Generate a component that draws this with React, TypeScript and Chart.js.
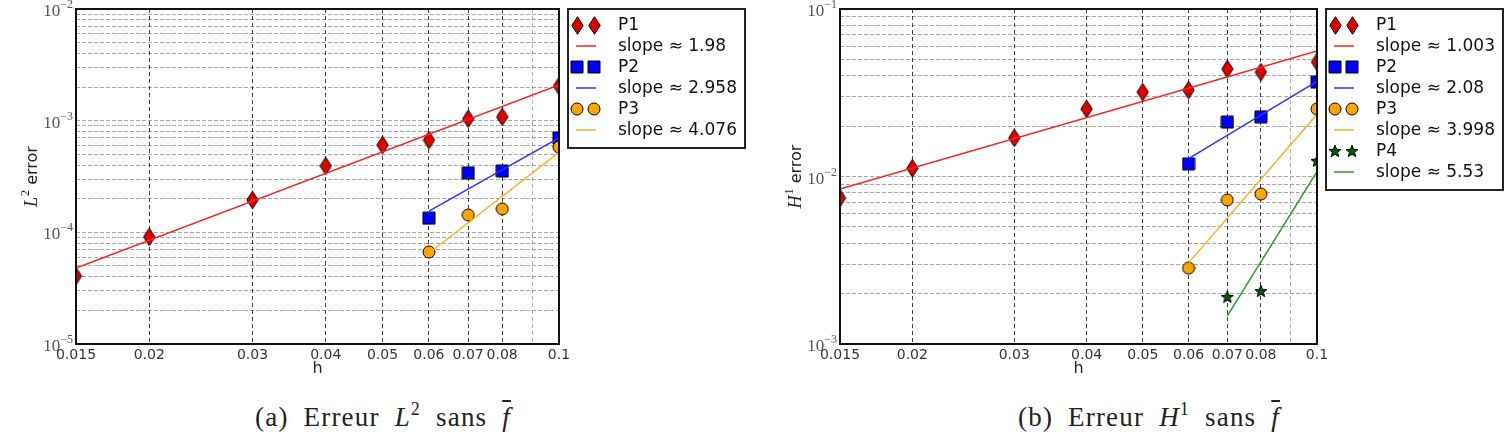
import React, { useEffect, useRef } from 'react';
import { Chart, registerables } from 'chart.js';

Chart.register(...registerables);

// ---------------- data ----------------
const hFine = [0.015, 0.02, 0.03, 0.04, 0.05, 0.06, 0.07, 0.08, 0.1];
const hCoarse = [0.06, 0.07, 0.08, 0.1];
const hP4 = [0.07, 0.08, 0.1];

// (a) L2 error
const l2P1 = [4.06e-5, 9.1e-5, 1.95e-4, 3.93e-4, 6.05e-4, 6.7e-4, 1.04e-3, 1.08e-3, 2.04e-3];
const l2P2 = [1.34e-4, 3.4e-4, 3.54e-4, 7.0e-4];
const l2P3 = [6.67e-5, 1.43e-4, 1.62e-4, 5.81e-4];
const l2FitP1X = [0.015, 0.1];
const l2FitP1Y = [4.8e-5, 2.09e-3];
const l2FitP2X = [0.06, 0.1];
const l2FitP2Y = [1.55e-4, 7.0e-4];
const l2FitP3X = [0.06, 0.1];
const l2FitP3Y = [6.5e-5, 5.2e-4];

// (b) H1 error
const h1P1 = [7.44e-3, 1.12e-2, 1.7e-2, 2.53e-2, 3.19e-2, 3.28e-2, 4.38e-2, 4.2e-2, 4.83e-2];
const h1P2 = [1.19e-2, 2.11e-2, 2.27e-2, 3.66e-2];
const h1P3 = [2.84e-3, 7.24e-3, 7.86e-3, 2.53e-2];
const h1P4 = [1.91e-3, 2.07e-3, 1.24e-2];
const h1FitP1X = [0.015, 0.1];
const h1FitP1Y = [8.42e-3, 5.61e-2];
const h1FitP2X = [0.06, 0.1];
const h1FitP2Y = [1.28e-2, 3.7e-2];
const h1FitP3X = [0.06, 0.1];
const h1FitP3Y = [3.05e-3, 2.35e-2];
const h1FitP4X = [0.07, 0.1];
const h1FitP4Y = [1.47e-3, 1.07e-2];

// ticks / labels
const xGridValues = [0.015, 0.02, 0.03, 0.04, 0.05, 0.06, 0.07, 0.08, 0.09, 0.1];
const xTickLabels = ['0.015', '0.02', '0.03', '0.04', '0.05', '0.06', '0.07', '0.08', '', '0.1'];
const yTickBase = '10';
const l2Decades = [-5, -4, -3, -2];
const l2YExponents = ['−5', '−4', '−3', '−2'];
const h1Decades = [-3, -2, -1];
const h1YExponents = ['−3', '−2', '−1'];
const seriesNames = ['P1', 'P2', 'P3', 'P4'];
const l2Slopes = ['1.98', '2.958', '4.076'];
const h1Slopes = ['1.003', '2.08', '3.998', '5.53'];
const xTitle = 'h';

// ---------------- styling ----------------
const lineColors = ['#ff2020', '#3030ff', '#ffb020', '#2a9a2a'];
const markerKinds = ['diamond', 'square', 'circle', 'star'];

function makeMarker(kind: string): HTMLCanvasElement {
  const c = document.createElement('canvas');
  if (kind === 'diamond') {
    c.width = 13; c.height = 19;
  } else {
    c.width = 14; c.height = 14;
  }
  const ctx = c.getContext('2d')!;
  ctx.lineWidth = 1;
  ctx.strokeStyle = '#000';
  ctx.beginPath();
  if (kind === 'diamond') {
    ctx.moveTo(6.5, 0.7); ctx.lineTo(12.2, 9.5); ctx.lineTo(6.5, 18.3); ctx.lineTo(0.8, 9.5); ctx.closePath();
    ctx.fillStyle = '#e00000';
  } else if (kind === 'square') {
    ctx.rect(1, 1, 12, 12);
    ctx.fillStyle = '#0000ff';
  } else if (kind === 'circle') {
    ctx.arc(7, 7, 6, 0, Math.PI * 2);
    ctx.fillStyle = '#ffa500';
  } else {
    for (let i = 0; i < 10; i++) {
      const r = i % 2 === 0 ? 6.3 : 2.7;
      const a = -Math.PI / 2 + (i * Math.PI) / 5;
      const px = 7 + r * Math.cos(a);
      const py = 7.5 + r * Math.sin(a);
      if (i === 0) ctx.moveTo(px, py); else ctx.lineTo(px, py);
    }
    ctx.closePath();
    ctx.fillStyle = '#005a00';
  }
  ctx.fill();
  ctx.stroke();
  return c;
}

function buildYTicks(decades: number[]) {
  const vals: number[] = [];
  for (let i = 0; i < decades.length - 1; i++) {
    for (let m = 1; m <= 9; m++) vals.push(m * Math.pow(10, decades[i]));
  }
  vals.push(Math.pow(10, decades[decades.length - 1]));
  return vals;
}

function pts(xs: number[], ys: number[]) {
  return xs.map((x, i) => ({ x, y: ys[i] }));
}

type Spec = {
  markers: { xs: number[]; ys: number[] }[];
  fits: { xs: number[]; ys: number[] }[];
  slopes: string[];
  decades: number[];
  yExponents: string[];
  yAxisWidth: number;
  padRight: number;
  titleSym: string;
  titleSup: string;
};

const specA: Spec = {
  markers: [
    { xs: hFine, ys: l2P1 },
    { xs: hCoarse, ys: l2P2 },
    { xs: hCoarse, ys: l2P3 },
  ],
  fits: [
    { xs: l2FitP1X, ys: l2FitP1Y },
    { xs: l2FitP2X, ys: l2FitP2Y },
    { xs: l2FitP3X, ys: l2FitP3Y },
  ],
  slopes: l2Slopes,
  decades: l2Decades,
  yExponents: l2YExponents,
  yAxisWidth: 76,
  padRight: 195,
  titleSym: 'L',
  titleSup: '2',
};

const specB: Spec = {
  markers: [
    { xs: hFine, ys: h1P1 },
    { xs: hCoarse, ys: h1P2 },
    { xs: hCoarse, ys: h1P3 },
    { xs: hP4, ys: h1P4 },
  ],
  fits: [
    { xs: h1FitP1X, ys: h1FitP1Y },
    { xs: h1FitP2X, ys: h1FitP2Y },
    { xs: h1FitP3X, ys: h1FitP3Y },
    { xs: h1FitP4X, ys: h1FitP4Y },
  ],
  slopes: h1Slopes,
  decades: h1Decades,
  yExponents: h1YExponents,
  yAxisWidth: 86,
  padRight: 191,
  titleSym: 'H',
  titleSup: '1',
};

const CW = 754;
const CH = 390;
const SERIF = '"Liberation Serif", "DejaVu Serif", serif';
const SANS = '"DejaVu Sans", sans-serif';

function Panel({ spec, left }: { spec: Spec; left: number }) {
  const ref = useRef<HTMLCanvasElement | null>(null);

  useEffect(() => {
    if (!ref.current) return;
    const markerImgs = markerKinds.map(makeMarker);
    const yTicks = buildYTicks(spec.decades);
    const datasets: any[] = [];
    spec.markers.forEach((m, i) => {
      datasets.push({
        label: seriesNames[i],
        data: pts(m.xs, m.ys),
        showLine: false,
        pointStyle: markerImgs[i],
        pointRadius: 6,
        clip: 0,
        order: -(2 * i),
      });
      const f = spec.fits[i];
      datasets.push({
        label: 'slope ≈ ' + spec.slopes[i],
        data: pts(f.xs, f.ys),
        showLine: true,
        borderColor: lineColors[i],
        borderWidth: 1.5,
        pointRadius: 0,
        fill: false,
        clip: 0,
        order: -(2 * i + 1),
      });
    });

    const nSeries = spec.markers.length;

    const decorPlugin = {
      id: 'decor',
      afterDatasetsDraw(chart: any) {
        const { ctx, chartArea: a } = chart;
        ctx.save();
        ctx.lineWidth = 2;
        ctx.strokeStyle = '#111';
        ctx.strokeRect(a.left, a.top, a.right - a.left, a.bottom - a.top);
        ctx.restore();
      },
      afterDraw(chart: any) {
        const { ctx, chartArea: a } = chart;
        const yScale = chart.scales.y;

        // y tick labels 10^k
        ctx.save();
        ctx.fillStyle = '#555';
        ctx.textBaseline = 'alphabetic';
        ctx.textAlign = 'left';
        spec.decades.forEach((d, i) => {
          const py = yScale.getPixelForValue(Math.pow(10, d));
          const exp = spec.yExponents[i];
          ctx.font = '12px ' + SERIF;
          const we = ctx.measureText(exp).width;
          ctx.font = '17px ' + SERIF;
          const wb = ctx.measureText(yTickBase).width;
          const xEnd = a.left - 3;
          ctx.fillText(yTickBase, xEnd - we - wb, py + 7);
          ctx.font = '12px ' + SERIF;
          ctx.fillText(exp, xEnd - we, py - 1);
        });
        ctx.restore();

        // y-axis title
        ctx.save();
        ctx.translate(a.left - 39, (a.top + a.bottom) / 2);
        ctx.rotate(-Math.PI / 2);
        ctx.textBaseline = 'alphabetic';
        ctx.fillStyle = '#222';
        ctx.font = 'italic 18px ' + SERIF;
        const w1 = ctx.measureText(spec.titleSym).width;
        ctx.font = '12px ' + SERIF;
        const w2 = ctx.measureText(spec.titleSup).width;
        ctx.font = '16px ' + SANS;
        const w3 = ctx.measureText(' error').width;
        let x = -(w1 + w2 + 1 + w3) / 2;
        ctx.font = 'italic 18px ' + SERIF;
        ctx.fillText(spec.titleSym, x, 0);
        x += w1 + 1;
        ctx.font = '12px ' + SERIF;
        ctx.fillText(spec.titleSup, x, -8);
        x += w2;
        ctx.font = '16px ' + SANS;
        ctx.fillText(' error', x, 0);
        ctx.restore();

        // legend
        const rows = nSeries * 2;
        const bx = a.right + 9;
        const by = 9;
        const bw = 177;
        const bh = rows * 21 + 13;
        ctx.save();
        ctx.fillStyle = '#fff';
        ctx.fillRect(bx, by, bw, bh);
        ctx.lineWidth = 2;
        ctx.strokeStyle = '#222';
        ctx.strokeRect(bx, by, bw, bh);
        ctx.font = '17px ' + SANS;
        ctx.textBaseline = 'middle';
        ctx.textAlign = 'left';
        for (let i = 0; i < nSeries; i++) {
          const y1 = by + 16 + 2 * i * 21;
          const y2 = y1 + 21;
          const img = markerImgs[i];
          [bx + 9, bx + 26].forEach((cx) => {
            ctx.drawImage(img, Math.round(cx - img.width / 2), Math.round(y1 - img.height / 2));
          });
          ctx.fillStyle = '#111';
          ctx.fillText(seriesNames[i], bx + 50, y1 + 1);
          ctx.strokeStyle = lineColors[i];
          ctx.lineWidth = 1.5;
          ctx.beginPath();
          ctx.moveTo(bx + 8, y2);
          ctx.lineTo(bx + 28, y2);
          ctx.stroke();
          ctx.fillText('slope ≈ ' + spec.slopes[i], bx + 50, y2 + 1);
        }
        ctx.restore();
      },
    };

    const chart = new Chart(ref.current, {
      type: 'scatter',
      data: { datasets },
      plugins: [decorPlugin],
      options: {
        responsive: false,
        animation: false,
        devicePixelRatio: 1,
        events: [],
        layout: { padding: { left: 0, top: 9, right: spec.padRight, bottom: 0 } },
        plugins: { legend: { display: false }, tooltip: { enabled: false } },
        scales: {
          x: {
            type: 'logarithmic',
            min: 0.015,
            max: 0.1,
            afterBuildTicks: (s: any) => {
              s.ticks = xGridValues.map((v) => ({ value: v }));
            },
            afterFit: (s: any) => {
              s.height = 46;
            },
            ticks: {
              autoSkip: false,
              maxRotation: 0,
              minRotation: 0,
              padding: 3,
              font: { family: SANS, size: 14 },
              color: '#333',
              callback: (_v: any, i: number) => xTickLabels[i],
            },
            grid: {
              drawTicks: false,
              lineWidth: 1,
              color: (c: any) =>
                c.tick && Math.abs(c.tick.value - 0.09) < 1e-9 ? 'rgba(0,0,0,0.3)' : 'rgba(0,0,0,0.75)',
            },
            border: { display: false, dash: [4, 3] },
            title: {
              display: true,
              text: xTitle,
              color: '#222',
              font: { family: SANS, size: 16 },
              padding: { top: 0, bottom: 12 },
            },
          },
          y: {
            type: 'logarithmic',
            min: Math.pow(10, spec.decades[0]),
            max: Math.pow(10, spec.decades[spec.decades.length - 1]),
            afterBuildTicks: (s: any) => {
              s.ticks = yTicks.map((v) => ({ value: v }));
            },
            afterFit: (s: any) => {
              s.width = spec.yAxisWidth;
            },
            ticks: {
              display: false,
              autoSkip: false,
            },
            grid: {
              drawTicks: false,
              lineWidth: 1,
              color: 'rgba(0,0,0,0.35)',
            },
            border: { display: false, dash: [4, 2] },
          },
        },
      } as any,
    });
    return () => chart.destroy();
  }, [spec]);

  return (
    <canvas
      ref={ref}
      width={CW}
      height={CH}
      style={{ position: 'absolute', left, top: 0, width: CW, height: CH }}
    />
  );
}

const captionStyle: React.CSSProperties = {
  position: 'absolute',
  top: 402,
  width: 600,
  textAlign: 'center',
  fontFamily: SERIF,
  fontSize: 27,
  letterSpacing: '1.2px',
  wordSpacing: '7px',
  lineHeight: '30px',
  color: '#222',
  whiteSpace: 'nowrap',
};

const supStyle: React.CSSProperties = { fontSize: 18, position: 'relative', top: -11 };

export default function App() {
  return (
    <div style={{ position: 'absolute', left: 0, top: 0, width: 1508, height: 445, background: '#fff', overflow: 'hidden' }}>
      <Panel spec={specA} left={0} />
      <Panel spec={specB} left={754} />
      <div style={{ ...captionStyle, left: 383 - 300 }}>
        (a) Erreur <i>L</i>
        <span style={supStyle}>2</span> sans <i style={{ textDecoration: 'overline' }}>f</i>
      </div>
      <div style={{ ...captionStyle, left: 1149 - 300 }}>
        (b) Erreur <i>H</i>
        <span style={supStyle}>1</span> sans <i style={{ textDecoration: 'overline' }}>f</i>
      </div>
    </div>
  );
}
